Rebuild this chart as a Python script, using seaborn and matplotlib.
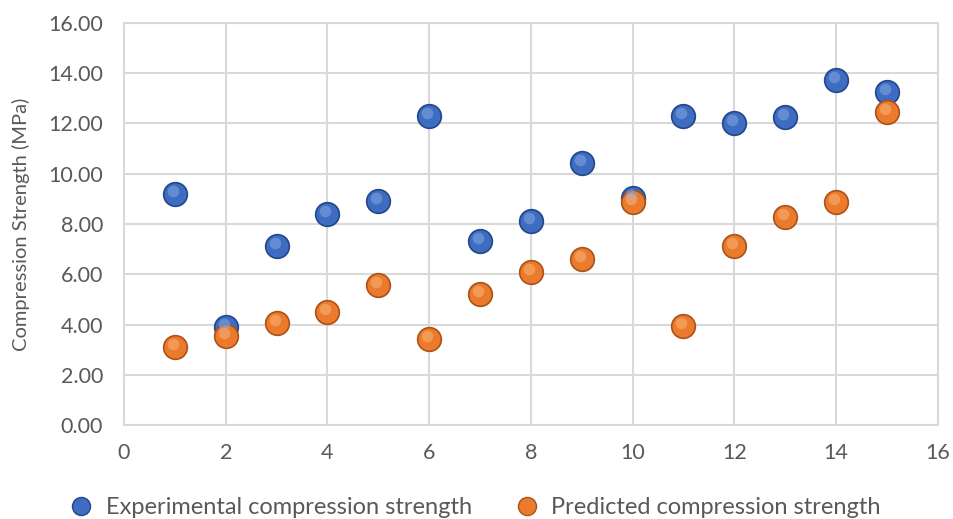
import matplotlib
matplotlib.use("Agg")
import matplotlib.pyplot as plt
import seaborn as sns
import pandas as pd
from matplotlib.lines import Line2D

sample = list(range(1, 16))
experimental = [9.20, 3.90, 7.13, 8.40, 8.92, 12.30, 7.33, 8.13, 10.44, 9.04, 12.30, 12.03, 12.27, 13.74, 13.23]
predicted = [3.10, 3.55, 4.06, 4.50, 5.58, 3.43, 5.22, 6.10, 6.61, 8.88, 3.94, 7.13, 8.29, 8.88, 12.47]
series_names = ["Experimental compression strength", "Predicted compression strength"]
x_ticks = [0, 2, 4, 6, 8, 10, 12, 14, 16]
y_ticks = [0, 2, 4, 6, 8, 10, 12, 14, 16]

df = pd.DataFrame({
    "x": sample * 2,
    "y": experimental + predicted,
    "series": [series_names[0]] * len(sample) + [series_names[1]] * len(sample),
})

sns.set_style("white")
plt.rcParams["font.family"] = ["Lato", "DejaVu Sans"]

colors = {series_names[0]: "#3D6CC0", series_names[1]: "#EC7A2C"}
edges = {series_names[0]: "#22478C", series_names[1]: "#A9521A"}
highlights = {series_names[0]: "#7FA3E0", series_names[1]: "#F7AE72"}

fig = plt.figure(figsize=(9.54, 5.19), dpi=100)
ax = fig.add_axes([0.130, 0.181, 0.853, 0.775])

for name in series_names:
    sub = df[df["series"] == name]
    sns.scatterplot(data=sub, x="x", y="y", ax=ax, s=290, color=colors[name],
                    edgecolor=edges[name], linewidth=1.2, zorder=3, legend=False)
    ax.scatter(sub["x"] - 0.04, sub["y"] + 0.12, s=70, color=highlights[name],
               linewidth=0, alpha=0.6, zorder=4)

ax.set_xlim(0, 16)
ax.set_ylim(0, 16)
ax.set_xticks(x_ticks)
ax.set_yticks(y_ticks)
ax.set_xticklabels([str(t) for t in x_ticks])
ax.set_yticklabels([f"{t:.2f}" for t in y_ticks])
ax.grid(True, color="#D9D9D9", linewidth=1.5)
ax.set_axisbelow(True)
for sp in ax.spines.values():
    sp.set_color("#D9D9D9")
    sp.set_linewidth(1.5)
ax.tick_params(axis="both", length=0, labelsize=15.5, labelcolor="#595959")
ax.tick_params(axis="y", pad=15)
ax.tick_params(axis="x", pad=13)
ax.set_xlabel("")
ax.set_ylabel("Compression Strength (MPa)", fontsize=14.5, color="#595959", labelpad=13)

handles = [Line2D([0], [0], marker="o", linestyle="", markersize=13,
                  markerfacecolor=colors[n], markeredgecolor=edges[n]) for n in series_names]
fig.legend(handles, series_names, loc="center", bbox_to_anchor=(0.492, 0.022), ncol=2,
           frameon=False, fontsize=17, labelcolor="#595959", handletextpad=0.05,
           columnspacing=1.3, borderaxespad=0)

fig.savefig("out.png", dpi=100)
